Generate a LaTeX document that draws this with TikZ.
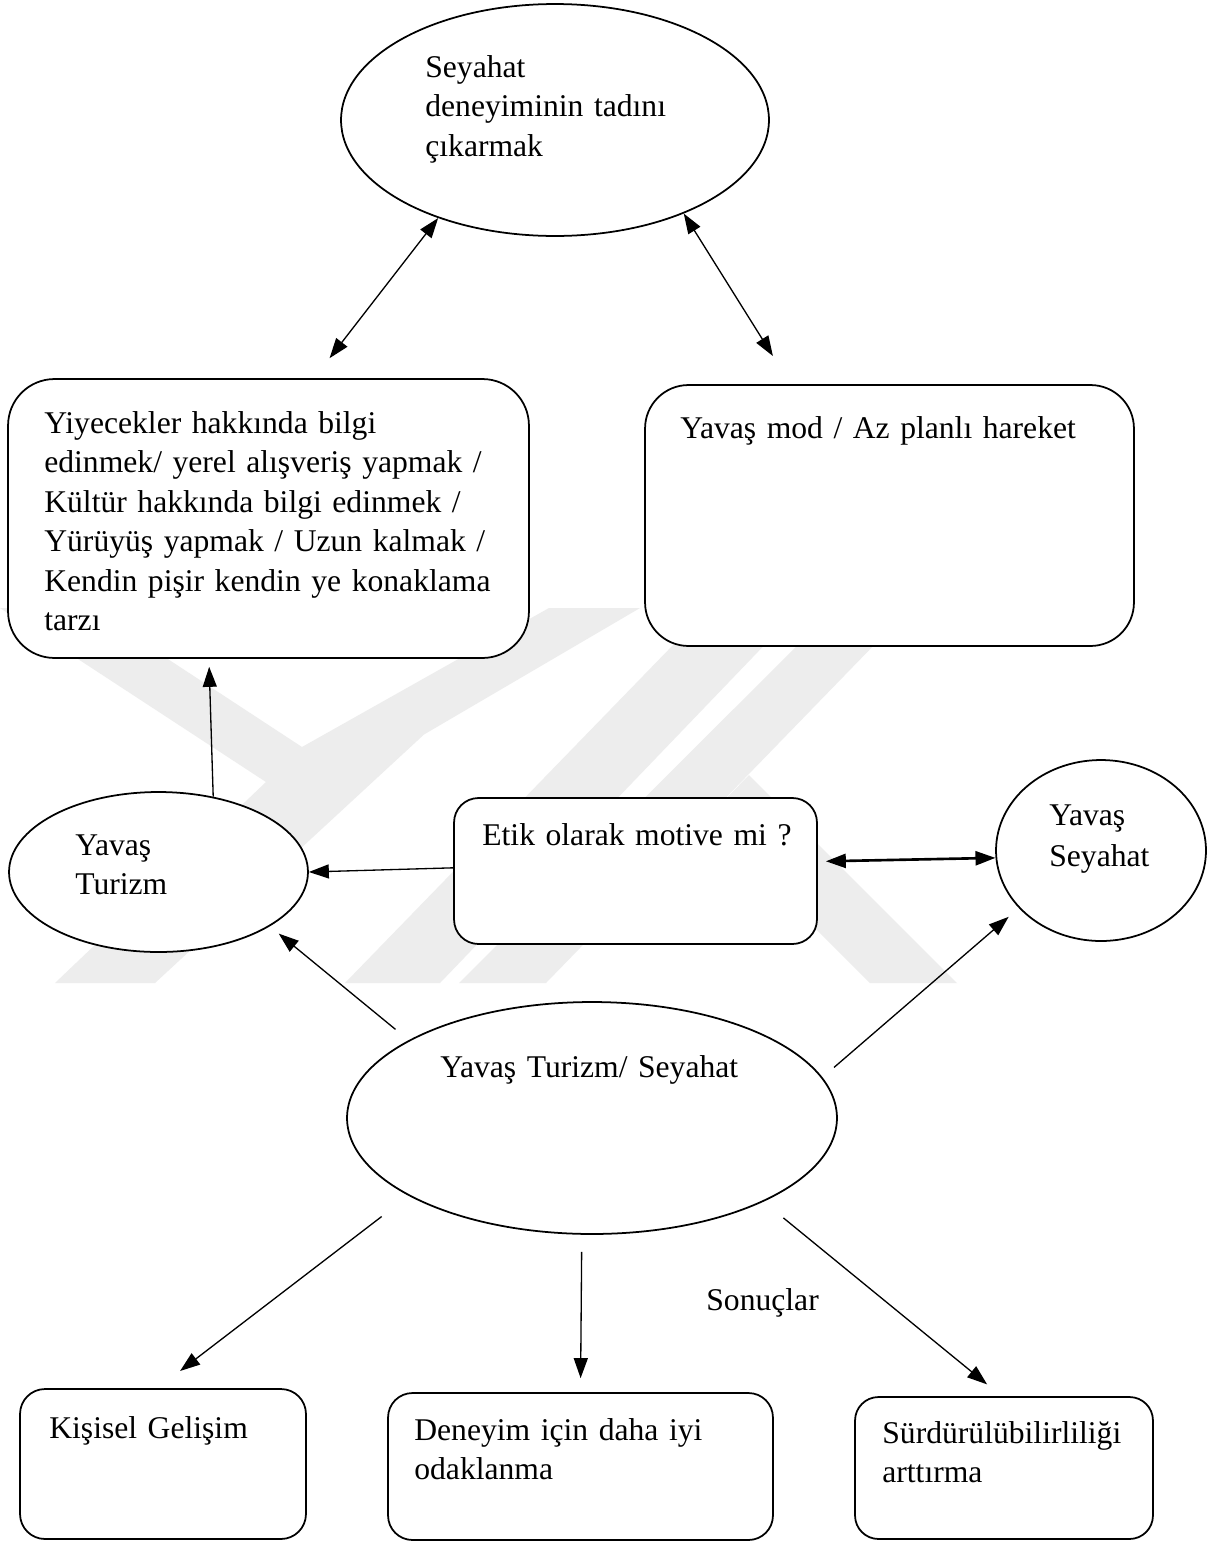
\documentclass[tikz,border=0pt]{standalone}
\usepackage{fontspec}
\setmainfont{Liberation Serif}
\usetikzlibrary{shapes.geometric,arrows.meta}
\begin{document}
\begin{tikzpicture}[x=0.02cm,y=-0.02cm,
  shp/.style={draw, line width=1pt, fill=white, inner sep=0pt},
  oval/.style={shp, ellipse},
  rbox/.style={shp, rectangle, rounded corners=#1},
  txt/.style={anchor=base west, inner sep=0pt, text width=12cm, align=left,
              font=\fontsize{18}{22.5}\selectfont},
  conn/.style={line width=0.75pt, -{Triangle[length=0.4cm,width=0.28cm]}},
  dconn/.style={line width=0.75pt, {Triangle[length=0.4cm,width=0.28cm]}-{Triangle[length=0.4cm,width=0.28cm]}},
  wm/.style={fill=black!7}
]
\useasboundingbox (0,0) rectangle (1230,1542);
\fill[white] (0,0) rectangle (1230,1542);

% faint watermark
\fill[wm] (0,608) -- (90,608) -- (302,747) -- (549,608) -- (640,608) -- (424,734.5)
  -- (155,983) -- (55,983) -- (266,782) -- cycle;
\fill[wm] (709,608) -- (800,608) -- (440,983) -- (345,983) -- cycle;
\fill[wm] (835,608) -- (910,608) -- (546,983) -- (459,983) -- cycle;
\fill[wm] (706,819) -- (749,775) -- (957,983) -- (870,983) -- cycle;

% shapes
\node[oval, minimum width=8.56cm, minimum height=4.64cm] (topE) at (555,120) {};
\node[rbox=0.93cm, minimum width=10.42cm, minimum height=5.58cm] (leftB) at (268.5,518.5) {};
\node[rbox=0.87cm, minimum width=9.78cm, minimum height=5.22cm] (rightB) at (889.5,515.5) {};
\node[oval, minimum width=5.98cm, minimum height=3.2cm] (ytE) at (158.5,872) {};
\node[rbox=0.49cm, minimum width=7.26cm, minimum height=2.92cm] (etikB) at (635.5,871) {};
\node[oval, minimum width=4.2cm, minimum height=3.62cm] (ysE) at (1101,850.5) {};
\node[oval, minimum width=9.8cm, minimum height=4.64cm] (centE) at (592,1118) {};
\node[rbox=0.5cm, minimum width=5.72cm, minimum height=3.0cm] (b1) at (163,1464) {};
\node[rbox=0.49cm, minimum width=7.7cm, minimum height=2.94cm] (b2) at (580.5,1466.5) {};
\node[rbox=0.47cm, minimum width=5.96cm, minimum height=2.84cm] (b3) at (1004,1468) {};

% texts
\node[txt] (topT) at (425,77) {Seyahat\\deneyiminin tadını\\çıkarmak};
\node[txt] (leftT) at (44,433) {Yiyecekler hakkında bilgi\\edinmek/ yerel alışveriş yapmak /\\Kültür hakkında bilgi edinmek /\\Yürüyüş yapmak / Uzun kalmak /\\Kendin pişir kendin ye konaklama\\tarzı};
\node[txt] (rightT) at (680,438) {Yavaş mod / Az planlı hareket};
\node[txt] (ytT) at (75,855) {Yavaş\\Turizm};
\node[txt] (etikT) at (482,845) {Etik olarak motive mi ?};
\node[txt, font=\fontsize{18}{23.8}\selectfont] (ysT) at (1049,825) {Yavaş\\Seyahat};
\node[txt] (centT) at (440,1077) {Yavaş Turizm/ Seyahat};
\node[txt] (sonT) at (706,1310) {Sonuçlar};
\node[txt] (b1T) at (49,1438) {Kişisel Gelişim};
\node[txt] (b2T) at (414,1440) {Deneyim için daha iyi\\odaklanma};
\node[txt] (b3T) at (882,1443) {Sürdürülübilirliliği\\arttırma};

% connectors
\draw[dconn, shorten >=0.506cm] (topE.220) -- (leftB.72.83);
\draw[dconn, shorten >=0.664cm] (topE.324) -- (rightB.127.07);
\draw[conn, shorten >=0.16cm] (ytE.54.5) -- (leftB.247.95);
\draw[conn] (etikB.179) -- (ytE.east);
\draw[dconn, line width=1.5pt, shorten <=0.16cm] (etikB.3.78) -- (ysE.184.6);
\draw[conn, shorten <=0.34cm, shorten >=0.23cm] (centE.157.1) -- (ytE.334.1);
\draw[conn, shorten <=0.304cm, shorten >=0.268cm] (centE.10.8) -- (ysE.215.7);
\draw[conn, shorten <=0.68cm, shorten >=0.564cm] (centE.203.5) -- (b1.94.95);
\draw[conn, shorten <=0.34cm, shorten >=0.28cm] (centE.265.2) -- (b2.north);
\draw[conn, shorten <=0.512cm, shorten >=0.372cm] (centE.334.95) -- (b3.92.2);
\end{tikzpicture}
\end{document}
